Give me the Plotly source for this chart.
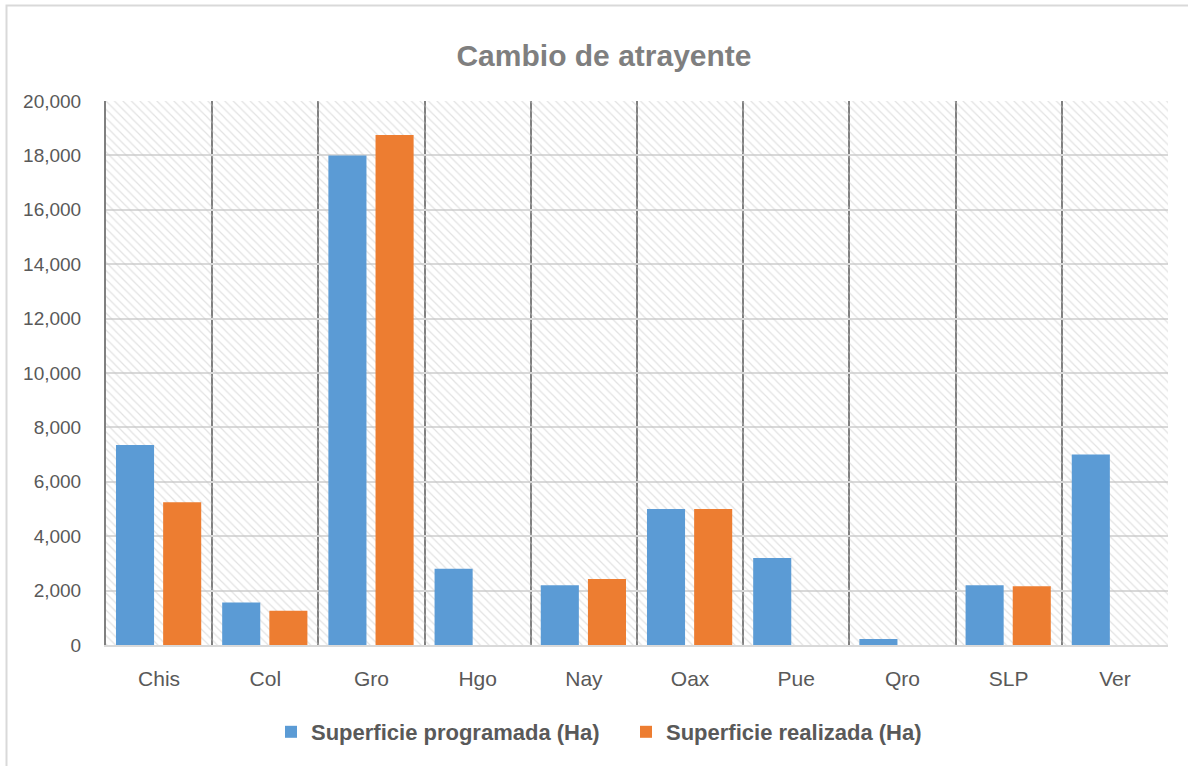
import plotly.graph_objects as go

categories = ["Chis", "Col", "Gro", "Hgo", "Nay", "Oax", "Pue", "Qro", "SLP", "Ver"]
programada = [7350, 1560, 18000, 2800, 2200, 5000, 3200, 220, 2200, 7000]
realizada = [5250, 1260, 18750, 0, 2430, 5000, 0, 0, 2160, 0]
series_names = ["Superficie programada (Ha)", "Superficie realizada (Ha)"]
y_max = 20000
y_ticks = list(range(0, 20001, 2000))
y_tick_labels = [f"{v:,}" for v in y_ticks]

BLUE = "#5B9BD5"
ORANGE = "#ED7D31"
FONT = "Liberation Sans, Arial, sans-serif"

fig = go.Figure()

# hatched plot-area background
fig.add_trace(go.Bar(
    x=categories, y=[y_max] * len(categories), width=1, offset=-0.5,
    marker=dict(color="rgba(0,0,0,0)", line=dict(width=0),
                pattern=dict(shape="\\", size=6, solidity=0.2,
                             fgcolor="#c6c6c6", bgcolor="rgba(0,0,0,0)")),
    showlegend=False, hoverinfo="skip",
))

fig.add_trace(go.Bar(
    x=categories, y=programada, name=series_names[0],
    width=0.3585, offset=-0.406,
    marker=dict(color=BLUE, line=dict(width=0)),
))
fig.add_trace(go.Bar(
    x=categories, y=realizada, name=series_names[1],
    width=0.3585, offset=0.038,
    marker=dict(color=ORANGE, line=dict(width=0)),
))

fig.update_layout(
    width=1188, height=766,
    margin=dict(l=106, r=20, t=101, b=121),
    barmode="overlay",
    paper_bgcolor="white", plot_bgcolor="white",
    title=dict(text="<b>Cambio de atrayente</b>", x=604 / 1188, xanchor="center",
               y=(766 - 55) / 766, yanchor="middle",
               font=dict(family=FONT, size=30, color="#7f7f7f")),
    legend=dict(orientation="h", x=(271 - 106) / 1062, xanchor="left",
                y=(645 - 732) / 544, yanchor="middle",
                font=dict(family=FONT, size=22, color="#595959", weight="bold"),
                itemwidth=30, entrywidth=310, traceorder="normal"),
    showlegend=True,
)

fig.update_xaxes(
    type="category", tickson="boundaries", showgrid=True,
    gridcolor="#808080", gridwidth=2,
    showline=True, linecolor="#d9d9d9", linewidth=2,
    ticks="", ticklabelstandoff=14,
    tickfont=dict(family=FONT, size=21, color="#595959"),
    range=[-0.5, len(categories) - 0.5],
)
fig.update_yaxes(
    range=[0, y_max], tickvals=y_ticks, ticktext=y_tick_labels,
    showgrid=True, gridcolor="#d9d9d9", gridwidth=2,
    showline=True, linecolor="#808080", linewidth=2,
    zeroline=False, ticks="", ticklabelstandoff=19,
    tickfont=dict(family=FONT, size=19, color="#595959"),
)

# outer chart border (partially cropped in the reference)
fig.add_shape(type="rect", xref="paper", yref="paper",
              x0=(6.5 - 106) / 1062, x1=(1220 - 106) / 1062,
              y0=(645 - 800) / 544, y1=(645 - 5.5) / 544,
              line=dict(color="#d9d9d9", width=2), fillcolor="rgba(0,0,0,0)", layer="below")

fig.write_html("out.html", config={"displayModeBar": False},
               post_script="document.body.style.margin='0';document.body.style.overflow='hidden';")
